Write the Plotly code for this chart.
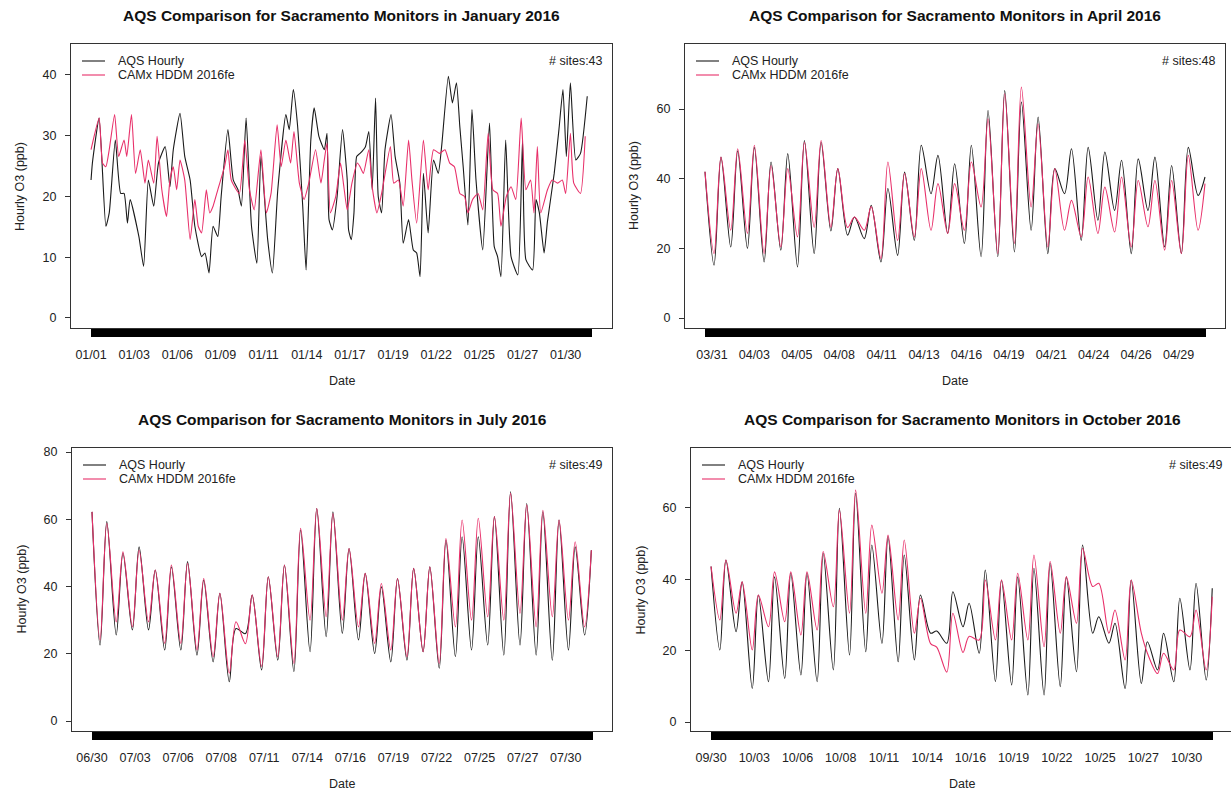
import plotly.graph_objects as go

W, H = 1231, 794
BLACK = "#1a1a1a"
PINK = "#e8306a"
FONT = "Liberation Sans, Arial, Helvetica, sans-serif"

# -------------------------------------------------
# January: turning points (hour of month, ppb)
# -------------------------------------------------
JAN_AQS_HR = [0, 2, 12, 22, 27, 36, 44, 49, 54, 58, 71, 78, 85, 93, 100, 110, 117, 122,
              132, 139, 147, 154, 164, 169, 175, 181, 188, 193, 203, 211, 218, 223, 230,
              238, 246, 252, 262, 269, 277, 289, 294, 300, 306, 314, 319, 326, 331, 338,
              346, 350, 353, 358, 365, 373, 380, 382, 386, 390, 394, 399, 407, 412, 417,
              422, 426, 431, 436, 445, 451, 458, 463, 471, 478, 483, 488, 493, 500, 508,
              515, 520, 530, 536, 542, 547, 552, 559, 565, 571, 581, 591, 598, 603, 608,
              615, 623, 633, 640, 645, 655, 660, 665, 672, 677, 687, 694, 700, 705, 711,
              719, 726, 736]
JAN_AQS = [22.7, 25.5, 32.9, 15.1, 17.3, 29.3, 20.5, 20.5, 15.6, 19.5, 13.4, 8.5, 22.7,
           18.4, 25.5, 28.2, 21.6, 27.7, 33.7, 26.6, 22.7, 15.1, 10.1, 10.7, 7.4, 15.1,
           13.4, 20, 31, 22.7, 21.1, 18.4, 32.9, 15.1, 9, 26.6, 12.9, 7.4, 21.1, 33.5,
           31, 37.6, 32.1, 18.4, 7.9, 29.3, 34.6, 29.9, 27.7, 30.4, 16.2, 14.5, 20, 31,
           22.7, 14.5, 12.9, 17.3, 26.6, 27.1, 28.2, 30.7, 21.1, 36.2, 20, 17.3, 27.7,
           33.5, 26.6, 22.2, 12.3, 16.2, 11.2, 10.7, 6.8, 23.8, 14, 26, 23.8, 28.2, 39.8,
           35.4, 38.7, 31.5, 24.9, 15.3, 34.3, 22.7, 11.2, 32.1, 11.8, 10.1, 6.8, 29.3,
           10.1, 7.1, 29.3, 9.6, 7.9, 19.5, 17.3, 10.7, 15.9, 23.8, 31, 37.6, 26.6, 38.7,
           26, 27.1, 36.5]
JAN_CAMX_HR = [0, 12, 17, 22, 27, 35, 41, 49, 53, 60, 66, 73, 80, 85, 93, 98, 105, 112,
               117, 122, 127, 132, 139, 147, 154, 159, 164, 171, 176, 181, 188, 198, 203,
               208, 220, 228, 235, 242, 252, 260, 267, 276, 282, 289, 296, 301, 309, 316,
               323, 333, 341, 346, 350, 355, 363, 370, 375, 380, 387, 395, 399, 404, 412,
               417, 424, 431, 444, 449, 456, 463, 471, 476, 483, 493, 500, 508, 517, 525,
               532, 539, 547, 554, 559, 566, 574, 581, 589, 596, 603, 608, 616, 623, 630,
               638, 645, 652, 657, 662, 667, 677, 684, 692, 699, 704, 711, 716, 726, 733]
JAN_CAMX = [27.7, 32.9, 25.5, 24.9, 27.7, 33.5, 26.6, 29.3, 26.6, 33.5, 23.8, 27.7, 22.2,
            26, 22.2, 29.9, 21.1, 16.7, 22.7, 24.9, 21.1, 26, 22.7, 12.9, 19.5, 15.1, 14,
            21.1, 17.3, 18.4, 21.1, 24.9, 27.7, 22.7, 20.5, 29.3, 21.1, 17.8, 27.7, 17.3,
            20.5, 31.8, 24.9, 29.3, 25.5, 30.7, 22.2, 19.5, 22.2, 27.7, 22.2, 26, 28.8,
            17.3, 20, 25.5, 21.6, 17.8, 22.2, 25.5, 24.9, 23.8, 27.7, 21.6, 17.3, 20.5,
            28.2, 22.2, 22.7, 18.4, 29.3, 22.7, 15.6, 29.3, 21.1, 27.7, 27.1, 27.7, 25.5,
            24.9, 20.5, 20, 17.3, 19.5, 20.5, 17.8, 30.4, 21.1, 20.5, 15.1, 20, 21.6, 19.5,
            32.9, 21.1, 22.7, 17.3, 28.2, 17.3, 21.1, 22.7, 22.2, 22.7, 20.5, 30.4, 22.2,
            20.5, 29.9]

# -------------------------------------------------
# other months: value at hour 0, then (morning low, afternoon high) per day
# -------------------------------------------------
APR_AQS = [42,
    15.2, 46.2, 20.4, 48, 20, 49, 16.1, 44.8, 19.5, 47.2,
    14.7, 51, 18.5, 50.5, 25, 42.9, 23.8, 29, 22.8, 32.4,
    16.1, 37.2, 18, 41.9, 22.3, 49.6, 35.7, 46.7, 24.3, 44.3,
    21.4, 49.6, 17.6, 59.6, 17.6, 65.3, 19, 62, 25.2, 57.7,
    18.5, 42.9, 35.7, 48.6, 22.3, 49, 28.1, 47.7, 30.9, 45.3,
    18.5, 45.7, 30.9, 46.2, 20.4, 43.8, 18.5, 49, 35.2, 40.5]
APR_CAMX = [42,
    18.5, 46.2, 25.2, 48.6, 24.3, 49.6, 18.5, 43.8, 20.4, 42.9,
    23.3, 50.5, 26, 51, 26, 42.9, 26, 29, 25.2, 32,
    17.1, 44.8, 22.3, 41.5, 23.3, 42.9, 25.2, 38.6, 24.3, 38.6,
    25.2, 44.8, 31.9, 57.2, 18.5, 64.4, 21.4, 66.3, 31.9, 55.8,
    20.4, 42.9, 25.2, 33.8, 23.3, 40.5, 24.3, 37.6, 24.7, 40.5,
    20.4, 39.5, 26.2, 39.5, 19.5, 39.5, 18.5, 46.7, 25.2, 38.6]

JUL_AQS = [62.2,
    22.6, 59.3, 25.6, 49.9, 27.1, 51.8, 27.1, 44.9, 21.1, 45.9,
    21.1, 47.4, 19.6, 41.9, 17.6, 38, 11.7, 27.5, 26, 37.5,
    15.2, 42.9, 18.1, 46.4, 14.7, 56.8, 20.6, 63.2, 25.1, 62.2,
    26.1, 51.3, 24.1, 43.9, 20.1, 39.9, 17.6, 42.4, 18.1, 45.4,
    20.6, 45.9, 15.7, 53.8, 19.1, 54.8, 21.1, 54.8, 22.6, 60.8,
    19.6, 68.2, 22.6, 64.7, 19.6, 62.2, 18.1, 59.8, 21.1, 51.8,
    25.6, 50.8]
JUL_CAMX = [62.2,
    24.1, 58.8, 29.5, 50.3, 28, 50.8, 29.5, 44.9, 23.1, 46.4,
    23.1, 46.9, 21.1, 42.4, 19.1, 38, 14.2, 29.5, 23, 37.5,
    16.2, 42.9, 19.1, 46.4, 17.1, 57.3, 30, 63.2, 31, 61.7,
    30, 51.3, 28, 43.9, 23.1, 40.9, 21.1, 42.4, 19.1, 45.4,
    20.6, 45.9, 17.1, 54.3, 28, 59.8, 30, 60.3, 31, 60.8,
    30, 67.7, 32, 64.2, 28, 62.7, 31, 59.8, 30, 53.3,
    28, 50.8]

OCT_AQS = [43.6,
    20.2, 45.4, 25.3, 39.3, 9.4, 35.6, 11.3, 40.7, 12.2, 41.7,
    13.2, 41.7, 11.3, 47.3, 14.6, 59.9, 18.8, 64.1, 19.7, 49.6,
    22, 52, 16.9, 46.8, 17.4, 35.6, 24.9, 25.5, 22.1, 36.5,
    26.7, 33.3, 19.3, 42.6, 11.3, 39.8, 10.4, 40.7, 7.6, 43.1,
    7.6, 44.5, 9.9, 40.7, 14.1, 49.6, 24.9, 29.5, 22.1, 27.7,
    9.4, 39.8, 10.8, 22.5, 14.6, 24.9, 11.3, 34.7, 14.6, 38.9,
    11.8, 37.5]
OCT_CAMX = [43.6,
    28.6, 45.4, 30.5, 39.3, 20.2, 35.6, 26.7, 42.1, 28.1, 42.1,
    24.4, 42.1, 25.8, 47.8, 32.3, 59.4, 30.5, 65, 30.5, 55.2,
    36.1, 52.4, 28.6, 51, 24.9, 34.7, 22, 21, 14, 30.5,
    19.5, 24, 23, 39.8, 23, 39.8, 23, 41.7, 23, 46.8,
    21.1, 45, 24.9, 40.7, 27.7, 48.7, 38, 38.9, 24.9, 31.4,
    17.4, 39.8, 24.9, 19.3, 13.6, 19.3, 14.6, 25.8, 23.9, 31.4,
    14.6, 35.1]

MONTHS = ["January", "April", "July", "October"]
N_SITES = [43, 48, 49, 49]
N_HOURS = [744, 720, 744, 744]
JAN_TICKS = ["01/01", "01/03", "01/06", "01/09", "01/11", "01/14",
             "01/17", "01/19", "01/22", "01/25", "01/27", "01/30"]
APR_TICKS = ["03/31", "04/03", "04/05", "04/08", "04/11", "04/13",
             "04/16", "04/19", "04/21", "04/24", "04/26", "04/29"]
JUL_TICKS = ["06/30", "07/03", "07/06", "07/08", "07/11", "07/14",
             "07/16", "07/19", "07/22", "07/25", "07/27", "07/30"]
OCT_TICKS = ["09/30", "10/03", "10/06", "10/08", "10/11", "10/14",
             "10/16", "10/19", "10/22", "10/25", "10/27", "10/30"]


def daily_hours(n_vals, offs):
    # hour 0, then the low/high hour of each day
    hrs = [0]
    d = 0
    while len(hrs) < n_vals:
        hrs += [24 * d + offs[0], 24 * d + offs[1]]
        d += 1
    return hrs[:n_vals]


# -------------------------------------------------
# panel setup (pixel boxes of the four plot regions)
# -------------------------------------------------
panels = [
    dict(aqs=(JAN_AQS_HR, JAN_AQS), camx=(JAN_CAMX_HR, JAN_CAMX), smooth=0.5,
         ticks=JAN_TICKS, t0=0, dt=64, box=(71, 44, 612, 328), yr=(-1.65, 45.1), ydt=10, ymax=40),
    dict(aqs=(daily_hours(len(APR_AQS), (13, 23)), APR_AQS),
         camx=(daily_hours(len(APR_CAMX), (13, 23)), APR_CAMX), smooth=0.9,
         ticks=APR_TICKS, t0=10, dt=61, box=(685, 44, 1225, 328), yr=(-2.87, 78.7), ydt=20, ymax=60),
    dict(aqs=(daily_hours(len(JUL_AQS), (12, 22)), JUL_AQS),
         camx=(daily_hours(len(JUL_CAMX), (12, 22)), JUL_CAMX), smooth=0.9,
         ticks=JUL_TICKS, t0=0, dt=64, box=(72, 448, 612, 731), yr=(-2.97, 81.2), ydt=20, ymax=80),
    dict(aqs=(daily_hours(len(OCT_AQS), (13, 22)), OCT_AQS),
         camx=(daily_hours(len(OCT_CAMX), (13, 22)), OCT_CAMX), smooth=0.9,
         ticks=OCT_TICKS, t0=0, dt=64, box=(691, 448, 1233, 731), yr=(-2.5, 76.8), ydt=20, ymax=60),
]

fig = go.Figure()
annots, shapes = [], []
txt = dict(size=12.5, color="#222", family=FONT)

for i, p in enumerate(panels):
    sfx = "" if i == 0 else str(i + 1)
    n = N_HOURS[i]
    x0, y0, x1, y1 = p["box"]

    # x range like R's 4% padding; clip the box at the page edge
    lo, hi = -0.04 * (n - 1), 1.04 * (n - 1)
    right = min(x1, W)
    hi = lo + (hi - lo) * (right - x0) / (x1 - x0)

    for (hrs, vals), clr in ((p["aqs"], BLACK), (p["camx"], PINK)):
        fig.add_trace(go.Scatter(
            x=hrs, y=vals, mode="lines", xaxis="x" + sfx, yaxis="y" + sfx,
            line=dict(color=clr, width=1.1, shape="spline", smoothing=p["smooth"]),
            showlegend=False, hoverinfo="skip"))

    tickvals = [p["t0"] + k * p["dt"] for k in range(len(p["ticks"]))]
    fig.update_layout(**{
        "xaxis" + sfx: dict(
            domain=[x0 / W, right / W], range=[lo, hi], anchor="y" + sfx,
            showline=True, mirror=True, linecolor="#333", linewidth=1,
            showgrid=False, zeroline=False, automargin=False,
            tickmode="array", tickvals=tickvals, ticktext=p["ticks"], tickangle=0,
            ticks="outside", ticklen=8, tickcolor="black", ticklabelstandoff=7,
            tickfont=txt,
            minor=dict(tickmode="array", tickvals=list(range(n)), ticks="outside",
                       ticklen=8, tickcolor="black", tickwidth=1, showgrid=False)),
        "yaxis" + sfx: dict(
            domain=[1 - y1 / H, 1 - y0 / H], range=list(p["yr"]), anchor="x" + sfx,
            showline=True, mirror=True, linecolor="#333", linewidth=1,
            showgrid=False, zeroline=False, automargin=False,
            tickmode="array", tickvals=list(range(0, p["ymax"] + 1, p["ydt"])),
            ticks="outside", ticklen=5, tickcolor="#333", ticklabelstandoff=6,
            tickfont=txt),
    })

    cx = (x0 + x1) / 2
    cy = (y0 + y1) / 2
    # title, axis titles, site count
    annots.append(dict(x=cx / W, y=1 - (y0 - 29) / H, xref="paper", yref="paper",
                       xanchor="center", yanchor="middle",
                       text="<b>AQS Comparison for Sacramento Monitors in %s 2016</b>" % MONTHS[i],
                       showarrow=False, font=dict(size=15.5, color="#111", family=FONT)))
    annots.append(dict(x=cx / W, y=1 - (y1 + 53) / H, xref="paper", yref="paper",
                       xanchor="center", yanchor="middle",
                       text="Date", showarrow=False, font=txt))
    annots.append(dict(x=(x0 - 51) / W, y=1 - cy / H, xref="paper", yref="paper",
                       xanchor="center", yanchor="middle",
                       text="Hourly O3 (ppb)", textangle=-90, showarrow=False, font=txt))
    annots.append(dict(x=(min(x1, 1232) - 7) / W, y=1 - (y0 + 17) / H,
                       xref="paper", yref="paper", xanchor="right", yanchor="middle",
                       text="# sites:%d" % N_SITES[i], showarrow=False, font=txt))
    # legend keys
    for k, (lab, clr) in enumerate((("AQS Hourly", BLACK), ("CAMx HDDM 2016fe", PINK))):
        ly = y0 + 17 + 14 * k
        shapes.append(dict(type="line", xref="paper", yref="paper",
                           x0=(x0 + 11) / W, x1=(x0 + 34) / W,
                           y0=1 - ly / H, y1=1 - ly / H,
                           line=dict(color=clr, width=1.1)))
        annots.append(dict(x=(x0 + 45) / W, y=1 - ly / H, xref="paper", yref="paper",
                           xanchor="left", yanchor="middle", text=lab, showarrow=False,
                           font=txt))

fig.update_layout(
    width=W, height=H, margin=dict(l=0, r=0, t=0, b=0),
    paper_bgcolor="white", plot_bgcolor="white",
    annotations=annots, shapes=shapes, showlegend=False,
)

fig.write_html("out.html", config={"displayModeBar": False},
               post_script="document.body.style.margin='0';document.body.style.overflow='hidden';")
